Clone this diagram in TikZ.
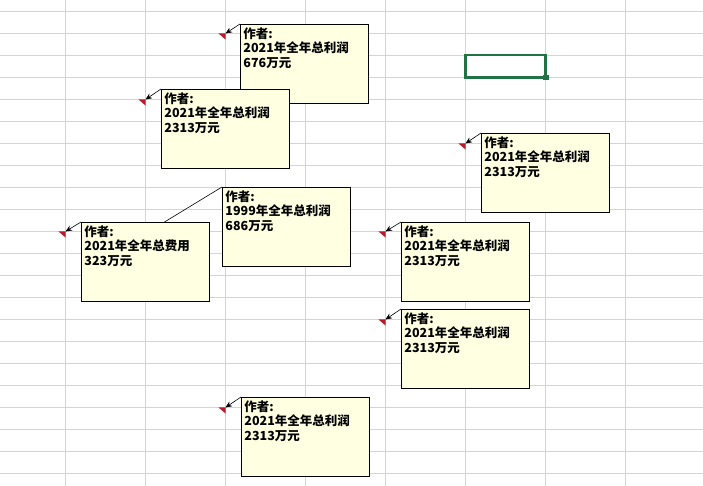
\documentclass[tikz,border=0pt]{standalone}
\usepackage{fontspec}
\newfontfamily\cjk{Noto Sans CJK SC}
\usetikzlibrary{arrows.meta}
\newcommand{\notebody}[1]{\parbox[t][73pt][t]{122pt}{#1}}
\begin{document}
\begin{tikzpicture}[x=1pt,y=1pt,
  note/.style={draw=black,line width=0.9pt,fill=noteColor,anchor=north west,
    inner sep=3pt,minimum width=128pt,minimum height=79pt,
    font=\cjk\bfseries\fontsize{12.5}{14.7}\selectfont},
  pointer/.style={draw=black,line width=0.6pt,-{Stealth[length=6.5pt,width=5.5pt]}},
  gridline/.style={draw=gridColor,line width=0.8pt},
  flag/.style={fill=markColor}]
\definecolor{fillColor}{RGB}{255,255,255}
\definecolor{gridColor}{RGB}{212,212,212}
\definecolor{noteColor}{RGB}{255,255,225}
\definecolor{markColor}{RGB}{186,26,46}
\definecolor{cellColor}{RGB}{33,115,70}
\path[use as bounding box,fill=fillColor] (0,0) rectangle (703,486);

% sheet grid
\path[gridline] (  0.00,474.50) -- (703.00,474.50);
\path[gridline] (  0.00,452.50) -- (703.00,452.50);
\path[gridline] (  0.00,430.50) -- (703.00,430.50);
\path[gridline] (  0.00,408.50) -- (703.00,408.50);
\path[gridline] (  0.00,386.50) -- (703.00,386.50);
\path[gridline] (  0.00,364.50) -- (703.00,364.50);
\path[gridline] (  0.00,342.50) -- (703.00,342.50);
\path[gridline] (  0.00,320.50) -- (703.00,320.50);
\path[gridline] (  0.00,298.50) -- (703.00,298.50);
\path[gridline] (  0.00,276.50) -- (703.00,276.50);
\path[gridline] (  0.00,254.50) -- (703.00,254.50);
\path[gridline] (  0.00,232.50) -- (703.00,232.50);
\path[gridline] (  0.00,210.50) -- (703.00,210.50);
\path[gridline] (  0.00,188.50) -- (703.00,188.50);
\path[gridline] (  0.00,166.50) -- (703.00,166.50);
\path[gridline] (  0.00,144.50) -- (703.00,144.50);
\path[gridline] (  0.00,122.50) -- (703.00,122.50);
\path[gridline] (  0.00,100.50) -- (703.00,100.50);
\path[gridline] (  0.00, 78.50) -- (703.00, 78.50);
\path[gridline] (  0.00, 56.50) -- (703.00, 56.50);
\path[gridline] (  0.00, 34.50) -- (703.00, 34.50);
\path[gridline] (  0.00, 12.50) -- (703.00, 12.50);

\path[gridline] ( 65.50,  0.00) -- ( 65.50,486.00);
\path[gridline] (145.50,  0.00) -- (145.50,486.00);
\path[gridline] (225.50,  0.00) -- (225.50,486.00);
\path[gridline] (305.50,  0.00) -- (305.50,486.00);
\path[gridline] (385.50,  0.00) -- (385.50,486.00);
\path[gridline] (465.50,  0.00) -- (465.50,486.00);
\path[gridline] (545.50,  0.00) -- (545.50,486.00);
\path[gridline] (625.50,  0.00) -- (625.50,486.00);

% selected cell
\path[draw=cellColor,line width=2.2pt] (465.50,431.00) rectangle (545.50,408.50);
\path[fill=cellColor] (543.00,406.00) rectangle (548.50,411.00);

% comment flags
\coordinate (flagA) at (225.50,452.50);
\coordinate (flagB) at (145.50,386.50);
\coordinate (flagC) at ( 65.50,254.50);
\coordinate (flagD) at (130.00,243.00);
\coordinate (flagE) at (465.50,342.50);
\coordinate (flagF) at (385.50,254.50);
\coordinate (flagG) at (385.50,166.50);
\coordinate (flagH) at (225.50, 78.50);

\path[flag] (flagA) -- ++(-7,0) -- ++(7,-6) -- cycle;
\path[flag] (flagB) -- ++(-7,0) -- ++(7,-6) -- cycle;
\path[flag] (flagC) -- ++(-7,0) -- ++(7,-6) -- cycle;
\path[flag] (flagE) -- ++(-7,0) -- ++(7,-6) -- cycle;
\path[flag] (flagF) -- ++(-7,0) -- ++(7,-6) -- cycle;
\path[flag] (flagG) -- ++(-7,0) -- ++(7,-6) -- cycle;
\path[flag] (flagH) -- ++(-7,0) -- ++(7,-6) -- cycle;

% comments
\node[note] (noteA) at (240.00,462.00) {\notebody{作者:\\2021年全年总利润\\676万元}};
\path[pointer] (noteA.north west) -- (flagA);

\node[note] (noteB) at (161.00,397.00) {\notebody{作者:\\2021年全年总利润\\2313万元}};
\path[pointer] (noteB.north west) -- (flagB);

\node[note] (noteD) at (222.00,299.00) {\notebody{作者:\\1999年全年总利润\\686万元}};
\path[pointer] (noteD.north west) -- (flagD);

\node[note] (noteC) at ( 81.00,264.00) {\notebody{作者:\\2021年全年总费用\\323万元}};
\path[pointer] (noteC.north west) -- (flagC);

\node[note] (noteE) at (481.00,353.00) {\notebody{作者:\\2021年全年总利润\\2313万元}};
\path[pointer] (noteE.north west) -- (flagE);

\node[note] (noteF) at (401.00,264.00) {\notebody{作者:\\2021年全年总利润\\2313万元}};
\path[pointer] (noteF.north west) -- (flagF);

\node[note] (noteG) at (401.00,177.00) {\notebody{作者:\\2021年全年总利润\\2313万元}};
\path[pointer] (noteG.north west) -- (flagG);

\node[note] (noteH) at (241.00, 89.00) {\notebody{作者:\\2021年全年总利润\\2313万元}};
\path[pointer] (noteH.north west) -- (flagH);
\end{tikzpicture}
\end{document}
